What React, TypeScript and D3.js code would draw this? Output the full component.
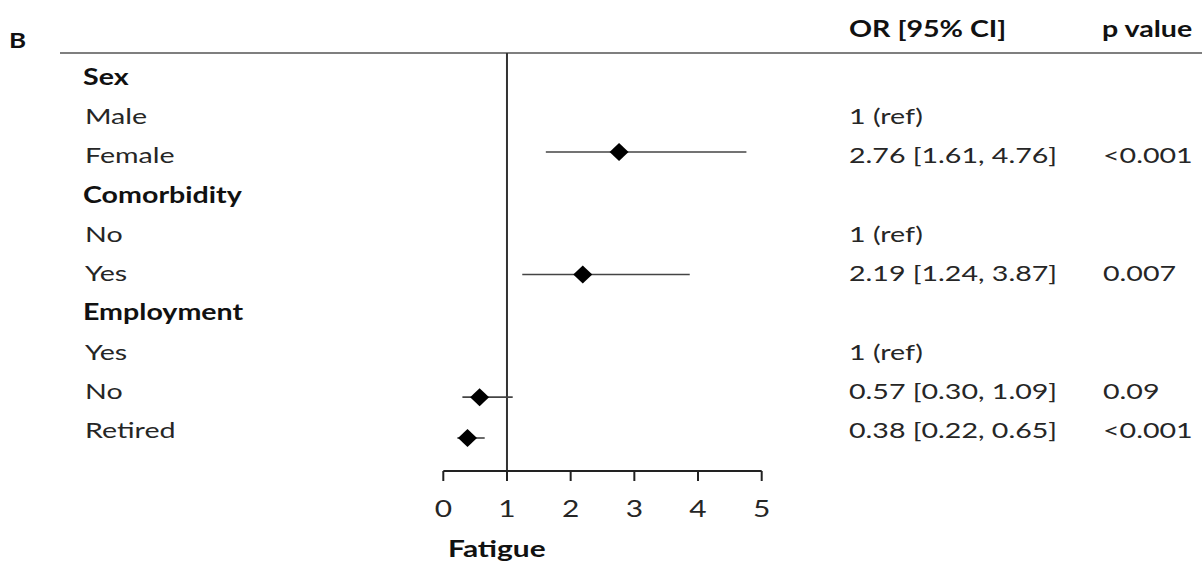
import React from 'react';
import * as d3 from 'd3';

// rows of the table, top to bottom
const rowLabels = ['Sex', 'Male', 'Female', 'Comorbidity', 'No', 'Yes', 'Employment', 'Yes', 'No', 'Retired'];
const headerRows = [0, 3, 6];
const orLabels = ['', '1 (ref)', '2.76 [1.61, 4.76]', '', '1 (ref)', '2.19 [1.24, 3.87]', '', '1 (ref)', '0.57 [0.30, 1.09]', '0.38 [0.22, 0.65]'];
const pLabels = ['', '', '<0.001', '', '', '0.007', '', '', '0.09', '<0.001'];

// estimates drawn in the plot
const estimateRows = [2, 5, 8, 9];
const orPoint = [2.76, 2.19, 0.57, 0.38];
const ciLower = [1.61, 1.24, 0.30, 0.22];
const ciUpper = [4.76, 3.87, 1.09, 0.65];

const xTicks = [0, 1, 2, 3, 4, 5];
const axisTitle = 'Fatigue';
const panelLabel = 'B';
const colHeaders = ['OR [95% CI]', 'p value'];

const W = 1202;
const H = 564;
const FONT = 'Lato, "Noto Sans", sans-serif';
const SX = 1.3; // the source text is stretched horizontally
const FS = 22;

const Txt: React.FC<{ x: number; y: number; bold?: boolean; size?: number; fill?: string; anchor?: string; children: React.ReactNode }> = ({ x, y, bold, size = FS, fill = '#262626', anchor = 'start', children }) => (
  <text
    transform={`translate(${x},${y}) scale(${SX},1)`}
    fontFamily={FONT}
    fontSize={size}
    fontWeight={bold ? 700 : 400}
    textAnchor={anchor}
    fill={fill}
  >
    {children}
  </text>
);

export default function App() {
  const x = d3.scaleLinear().domain([0, 5]).range([443.3, 761.7]);
  const textY = d3.scaleLinear().domain([0, 9]).range([85, 438]);
  const markY = d3.scaleLinear().domain([2, 9]).range([152, 438]);

  const ruleY = 53;
  const axisY = 471;
  const diamond = (cx: number, cy: number) =>
    `M${cx - 9.5},${cy} L${cx},${cy - 9} L${cx + 9.5},${cy} L${cx},${cy + 9} Z`;

  return (
    <svg width={W} height={H} style={{ display: 'block', position: 'absolute', left: 0, top: 0, background: '#fff' }}>
      <Txt x={9} y={48} bold size={20} fill="#111">{panelLabel}</Txt>
      <Txt x={849} y={37} bold fill="#111">{colHeaders[0]}</Txt>
      <Txt x={1102} y={37} bold fill="#111">{colHeaders[1]}</Txt>

      <line x1={60} x2={W} y1={ruleY} y2={ruleY} stroke="#555" strokeWidth={1.6} />

      {rowLabels.map((lab, i) => {
        const isHead = headerRows.includes(i);
        return (
          <g key={i}>
            <Txt x={isHead ? 83 : 85} y={textY(i)} bold={isHead} fill={isHead ? '#111' : '#262626'}>{lab}</Txt>
            {orLabels[i] && <Txt x={849} y={textY(i)}>{orLabels[i]}</Txt>}
            {pLabels[i] && <Txt x={1103} y={textY(i)}>{pLabels[i]}</Txt>}
          </g>
        );
      })}

      {/* reference line at OR = 1 */}
      <line x1={x(1)} x2={x(1)} y1={ruleY} y2={axisY} stroke="#333" strokeWidth={2} />

      {estimateRows.map((r, k) => (
        <g key={r}>
          <line x1={x(ciLower[k])} x2={x(ciUpper[k])} y1={markY(r)} y2={markY(r)} stroke="#444" strokeWidth={1.6} />
          <path d={diamond(x(orPoint[k]), markY(r))} fill="#000" />
        </g>
      ))}

      {/* x axis */}
      <line x1={x(0)} x2={x(5)} y1={axisY} y2={axisY} stroke="#222" strokeWidth={2} />
      {xTicks.map(t => (
        <g key={t}>
          <line x1={x(t)} x2={x(t)} y1={axisY} y2={axisY + 10} stroke="#222" strokeWidth={2} />
          <Txt x={x(t)} y={517} size={23} anchor="middle">{t}</Txt>
        </g>
      ))}
      <Txt x={448} y={557} bold size={23} fill="#111">{axisTitle}</Txt>
    </svg>
  );
}
